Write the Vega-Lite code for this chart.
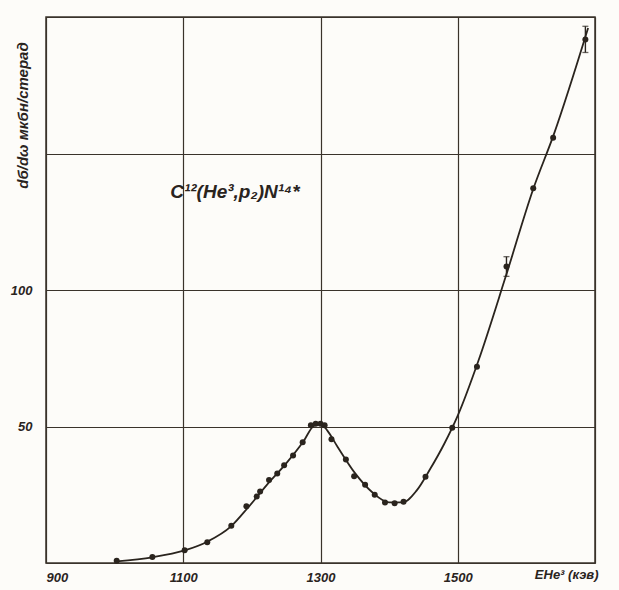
{
  "$schema": "https://vega.github.io/schema/vega-lite/v6.json",
  "width": 549,
  "height": 546,
  "autosize": {"type": "none"},
  "padding": {"left": 46, "top": 17, "right": 24, "bottom": 27},
  "background": "#fdfcf9",
  "config": {
    "view": {"stroke": "#3a332b", "strokeWidth": 1.5},
    "font": "Liberation Sans",
    "axis": {
      "gridColor": "#3a332b",
      "gridOpacity": 1,
      "gridWidth": 1.2,
      "domain": false,
      "ticks": false,
      "labelFont": "Liberation Sans",
      "labelFontStyle": "italic",
      "labelFontWeight": "bold",
      "labelFontSize": 13,
      "labelColor": "#2a241e",
      "titleFont": "Liberation Sans",
      "titleFontStyle": "italic",
      "titleFontWeight": "bold",
      "titleColor": "#2a241e"
    }
  },
  "datasets": {
    "points": [
      {"e": 1003, "s": 0.8},
      {"e": 1055, "s": 2.2},
      {"e": 1102, "s": 4.7},
      {"e": 1135, "s": 7.6},
      {"e": 1170, "s": 13.6},
      {"e": 1192, "s": 20.8},
      {"e": 1207, "s": 24.4},
      {"e": 1212, "s": 26.2},
      {"e": 1225, "s": 30.4},
      {"e": 1237, "s": 32.8},
      {"e": 1247, "s": 35.8},
      {"e": 1260, "s": 39.4},
      {"e": 1274, "s": 44.2},
      {"e": 1286, "s": 50.5},
      {"e": 1293, "s": 51},
      {"e": 1300, "s": 51},
      {"e": 1306, "s": 50.5},
      {"e": 1316, "s": 45.3},
      {"e": 1337, "s": 37.9},
      {"e": 1349, "s": 31.8},
      {"e": 1365, "s": 28.7},
      {"e": 1379, "s": 25},
      {"e": 1394, "s": 22.2},
      {"e": 1408, "s": 21.9},
      {"e": 1421, "s": 22.4},
      {"e": 1453, "s": 31.6},
      {"e": 1492, "s": 49.5},
      {"e": 1528, "s": 71.9},
      {"e": 1571, "s": 108.6},
      {"e": 1610, "s": 137.3},
      {"e": 1639, "s": 155.8},
      {"e": 1686, "s": 191.8}
    ],
    "curve": [
      {"e": 1003, "s": 0.6},
      {"e": 1055, "s": 2.1},
      {"e": 1102, "s": 4.6},
      {"e": 1135, "s": 7.8},
      {"e": 1170, "s": 13.5},
      {"e": 1195, "s": 20.5},
      {"e": 1225, "s": 29.5},
      {"e": 1250, "s": 36.5},
      {"e": 1275, "s": 44.5},
      {"e": 1290, "s": 50.2},
      {"e": 1300, "s": 51},
      {"e": 1310, "s": 48.5},
      {"e": 1325, "s": 42.5},
      {"e": 1350, "s": 33},
      {"e": 1375, "s": 26},
      {"e": 1400, "s": 22.2},
      {"e": 1420, "s": 22.2},
      {"e": 1440, "s": 26.5},
      {"e": 1460, "s": 34.5},
      {"e": 1480, "s": 43.5},
      {"e": 1500, "s": 54},
      {"e": 1530, "s": 74},
      {"e": 1570, "s": 105},
      {"e": 1610, "s": 137},
      {"e": 1640, "s": 157},
      {"e": 1690, "s": 196}
    ],
    "errors": [
      {"e": 1571, "lo": 105, "hi": 112.2},
      {"e": 1686, "lo": 187, "hi": 196.6}
    ],
    "label": [
      {"e": 1081, "s": 136, "t": "C¹²(He³,p₂)N¹⁴*"}
    ]
  },
  "layer": [
    {
      "data": {"name": "curve"},
      "mark": {"type": "line", "interpolate": "monotone", "color": "#2a241e", "strokeWidth": 1.8},
      "encoding": {
        "x": {
          "field": "e", "type": "quantitative",
          "scale": {"domain": [900, 1700], "nice": false, "zero": false},
          "axis": {
            "values": [900, 1100, 1300, 1500, 1700],
            "labelExpr": "datum.value == 1700 ? '' : datum.label",
            "format": "d",
            "labelPadding": 8,
            "title": "EHe³ (кэв)",
            "titleFontSize": 13,
            "titleAlign": "right",
            "titleAnchor": "end",
            "titleBaseline": "top",
            "titleX": 552,
            "titleY": 5
          }
        },
        "y": {
          "field": "s", "type": "quantitative",
          "scale": {"domain": [0, 200], "nice": false},
          "axis": {
            "values": [0, 50, 100, 150, 200],
            "labelExpr": "datum.value == 50 || datum.value == 100 ? datum.label : ''",
            "labelPadding": 14,
            "title": "dб/dω мкбн/стерад",
            "titleFontSize": 15,
            "titleAngle": -90,
            "titleAlign": "center",
            "titleBaseline": "middle",
            "titleX": -24,
            "titleY": 98
          }
        }
      }
    },
    {
      "data": {"name": "points"},
      "mark": {"type": "circle", "color": "#2a241e", "opacity": 1, "size": 36},
      "encoding": {
        "x": {"field": "e", "type": "quantitative"},
        "y": {"field": "s", "type": "quantitative"}
      }
    },
    {
      "data": {"name": "errors"},
      "mark": {"type": "rule", "color": "#2a241e", "strokeWidth": 1.4},
      "encoding": {
        "x": {"field": "e", "type": "quantitative"},
        "y": {"field": "lo", "type": "quantitative"},
        "y2": {"field": "hi"}
      }
    },
    {
      "data": {"name": "errors"},
      "mark": {"type": "tick", "color": "#2a241e", "orient": "horizontal", "size": 6, "thickness": 1.3},
      "encoding": {
        "x": {"field": "e", "type": "quantitative"},
        "y": {"field": "hi", "type": "quantitative"}
      }
    },
    {
      "data": {"name": "errors"},
      "mark": {"type": "tick", "color": "#2a241e", "orient": "horizontal", "size": 6, "thickness": 1.3},
      "encoding": {
        "x": {"field": "e", "type": "quantitative"},
        "y": {"field": "lo", "type": "quantitative"}
      }
    },
    {
      "data": {"name": "label"},
      "mark": {"type": "text", "align": "left", "baseline": "middle", "fontSize": 19, "fontStyle": "italic", "fontWeight": "bold", "color": "#2a241e"},
      "encoding": {
        "x": {"field": "e", "type": "quantitative"},
        "y": {"field": "s", "type": "quantitative"},
        "text": {"field": "t"}
      }
    }
  ]
}
